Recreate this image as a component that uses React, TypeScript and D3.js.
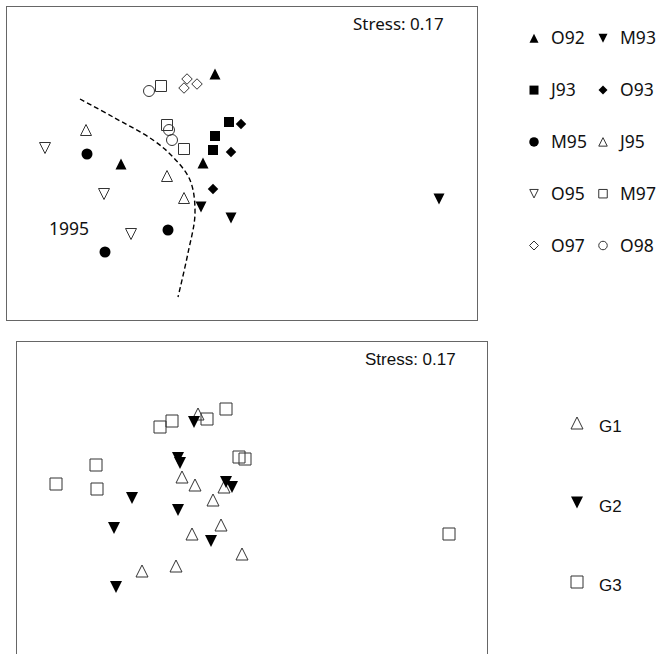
import React from "react";
import * as d3 from "d3";

// NMDS ordination, top panel: three samples per survey
const topGroups = ["O92", "M93", "J93", "O93", "M95", "J95", "O95", "M97", "O97", "O98"];
const topShapes = ["triUp", "triDown", "square", "diamond", "circle", "triUp", "triDown", "square", "diamond", "circle"];
const topFilled = [true, true, true, true, true, false, false, false, false, false];
const topCoords = [
  [[-0.27, 0.885], [-1.21, -0.015], [-0.39, -0.005]],
  [[-0.41, -0.445], [-0.11, -0.555], [1.97, -0.365]],
  [[-0.13, 0.405], [-0.27, 0.265], [-0.29, 0.125]],
  [[-0.01, 0.385], [-0.11, 0.105], [-0.29, -0.265]],
  [[-1.55, 0.085], [-0.74, -0.675], [-1.37, -0.895]],
  [[-1.56, 0.325], [-0.75, -0.135], [-0.58, -0.355]],
  [[-1.97, 0.145], [-1.38, -0.315], [-1.11, -0.715]],
  [[-0.81, 0.765], [-0.75, 0.375], [-0.58, 0.135]],
  [[-0.55, 0.835], [-0.58, 0.745], [-0.45, 0.785]],
  [[-0.93, 0.715], [-0.73, 0.325], [-0.70, 0.225]],
];
// dashed boundary separating the 1995 samples
const boundary = [
  [-1.62, 0.635], [-1.29, 0.455], [-0.89, 0.225], [-0.69, 0.055],
  [-0.52, -0.175], [-0.47, -0.505], [-0.54, -0.905], [-0.64, -1.345],
];

// bottom panel: grouping
const botGroups = ["G1", "G2", "G3"];
const botShapes = ["triUp", "triDown", "square"];
const botFilled = [false, true, false];
const botCoords = [
  [[-0.545, 0.835], [-0.705, 0.205], [-0.575, 0.125], [-0.285, 0.105], [-0.395, -0.025],
   [-0.315, -0.275], [-0.605, -0.365], [-0.105, -0.565], [-0.765, -0.685], [-1.105, -0.735]],
  [[-0.585, 0.755], [-0.745, 0.395], [-0.725, 0.345], [-0.265, 0.155], [-0.205, 0.105],
   [-1.205, -0.005], [-0.745, -0.125], [-1.385, -0.305], [-0.415, -0.435], [-1.365, -0.895]],
  [[-0.265, 0.885], [-0.455, 0.785], [-0.805, 0.765], [-0.925, 0.705], [-1.565, 0.325],
   [-1.965, 0.135], [-1.555, 0.085], [-0.135, 0.405], [-0.075, 0.385], [1.965, -0.365]],
];

const stressText = "Stress: 0.17";

const W = 656;
const H = 654;

const xTop = d3.scaleLinear().domain([-2.36, 2.36]).range([6, 478]);
const yTop = d3.scaleLinear().domain([-1.575, 1.565]).range([320, 6]);
const xBot = d3.scaleLinear().domain([-2.365, 2.355]).range([16, 488]);
const yBot = d3.scaleLinear().domain([-1.565, 1.565]).range([654, 341]);

// marker size = width of the marker box in px
function symbolPath(shape: string, s: number) {
  const h = s / 2;
  if (shape === "triUp") {
    const p = d3.path();
    p.moveTo(0, -h);
    p.lineTo(h, h);
    p.lineTo(-h, h);
    p.closePath();
    return p.toString();
  }
  if (shape === "triDown") {
    const p = d3.path();
    p.moveTo(-h, -h);
    p.lineTo(h, -h);
    p.lineTo(0, h);
    p.closePath();
    return p.toString();
  }
  if (shape === "diamond") {
    const p = d3.path();
    p.moveTo(0, -h);
    p.lineTo(h, 0);
    p.lineTo(0, h);
    p.lineTo(-h, 0);
    p.closePath();
    return p.toString();
  }
  if (shape === "circle") return d3.symbol().type(d3.symbolCircle).size(Math.PI * h * h)() as string;
  return d3.symbol().type(d3.symbolSquare).size(s * s)() as string;
}

function Marker({ x, y, shape, filled, size }: any) {
  return (
    <path
      d={symbolPath(shape, size)}
      transform={`translate(${x},${y})`}
      fill={filled ? "#000" : "none"}
      stroke={filled ? "none" : "#333"}
      strokeWidth={1}
    />
  );
}

const topSize: Record<string, number> = { triUp: 11, triDown: 11, square: 10, diamond: 10.5, circle: 11 };

export default function App() {
  const line = d3
    .line<number[]>()
    .x((d) => xTop(d[0]))
    .y((d) => yTop(d[1]))
    .curve(d3.curveCatmullRom);

  const topLegendRows = d3.range(5).map((i) => 38.3 + i * 51.8);
  const botLegendY = d3.scalePoint<string>().domain(botGroups).range([423, 582]);

  const topFont = "'Noto Sans', 'DejaVu Sans', sans-serif";
  const botFont = "'Liberation Sans', Arial, sans-serif";

  return (
    <svg width={W} height={H} style={{ position: "absolute", left: 0, top: 0, background: "#fff" }}>
      {/* top panel */}
      <rect x={6.5} y={6.5} width={471} height={314} fill="none" stroke="#666" strokeWidth={1} />
      <text x={353} y={30} fontFamily={topFont} fontSize={17} fill="#111">
        {stressText}
      </text>
      <path d={line(boundary) as string} fill="none" stroke="#000" strokeWidth={1.4} strokeDasharray="5,3" />
      <text x={xTop(-1.93)} y={yTop(-0.725)} fontFamily={topFont} fontSize={17.5} fill="#111">
        1995
      </text>
      {topCoords.map((pts, g) =>
        pts.map((p, i) => (
          <Marker
            key={`t${g}-${i}`}
            x={xTop(p[0])}
            y={yTop(p[1])}
            shape={topShapes[g]}
            filled={topFilled[g]}
            size={!topFilled[g] && topShapes[g] === "square" ? 11 : topSize[topShapes[g]]}
          />
        ))
      )}
      {/* top legend */}
      {topGroups.map((name, g) => {
        const col = g % 2;
        const row = Math.floor(g / 2);
        const sx = col === 0 ? 534 : 603;
        const sy = topLegendRows[row];
        const shape = topShapes[g];
        const size = shape === "diamond" ? 9 : shape === "circle" ? (topFilled[g] ? 9.5 : 8.5) : topFilled[g] ? 9 : 8.5;
        return (
          <g key={name}>
            <Marker x={sx} y={sy} shape={shape} filled={topFilled[g]} size={size} />
            <text x={sx + 17} y={sy + 6} fontFamily={topFont} fontSize={17.5} fill="#111">
              {name}
            </text>
          </g>
        );
      })}

      {/* bottom panel */}
      <rect x={16.5} y={341.5} width={471} height={330} fill="none" stroke="#666" strokeWidth={1} />
      <text x={365} y={365} fontFamily={botFont} fontSize={17} fill="#111">
        {stressText}
      </text>
      {botCoords.map((pts, g) =>
        pts.map((p, i) => (
          <Marker
            key={`b${g}-${i}`}
            x={xBot(p[0])}
            y={yBot(p[1])}
            shape={botShapes[g]}
            filled={botFilled[g]}
            size={12}
          />
        ))
      )}
      {botGroups.map((name, g) => {
        const sy = botLegendY(name) as number;
        return (
          <g key={name}>
            <Marker x={577} y={sy} shape={botShapes[g]} filled={botFilled[g]} size={12} />
            <text x={599} y={sy + 9} fontFamily={botFont} fontSize={17} fill="#111">
              {name}
            </text>
          </g>
        );
      })}
    </svg>
  );
}
